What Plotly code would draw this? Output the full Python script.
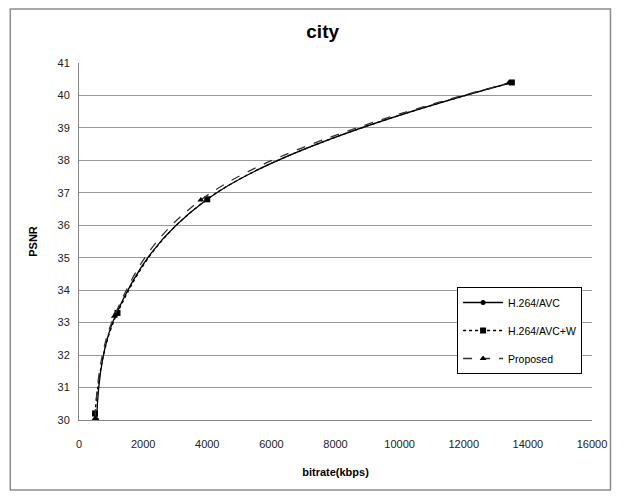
import plotly.graph_objects as go

series_names = ["H.264/AVC", "H.264/AVC+W", "Proposed"]
avc_x = [550, 1150, 4000, 13500]
avc_y = [30.0, 33.25, 36.8, 40.4]
avcw_x = [500, 1200, 4000, 13500]
avcw_y = [30.2, 33.3, 36.8, 40.4]
prop_x = [500, 1100, 3800, 13400]
prop_y = [30.05, 33.2, 36.78, 40.38]

x_ticks = [0, 2000, 4000, 6000, 8000, 10000, 12000, 14000, 16000]
y_ticks = [30, 31, 32, 33, 34, 35, 36, 37, 38, 39, 40, 41]

FONT = "Liberation Sans"

fig = go.Figure()
fig.add_trace(go.Scatter(x=avc_x, y=avc_y, name=series_names[0], mode="lines+markers", legendgroup="a",
                         line=dict(color="#000000", width=1.3, shape="spline", smoothing=1.1),
                         marker=dict(symbol="circle", size=5, color="#000000")))
fig.add_trace(go.Scatter(x=avcw_x, y=avcw_y, name=series_names[1], mode="lines+markers", legendgroup="b",
                         line=dict(color="#000000", width=1.3, dash="dot", shape="spline", smoothing=1.1),
                         marker=dict(symbol="square", size=6, color="#000000")))
fig.add_trace(go.Scatter(x=prop_x, y=prop_y, name=series_names[2], mode="lines+markers", legendgroup="c",
                         line=dict(color="#333333", width=1.3, dash="dash", shape="spline", smoothing=1.1),
                         marker=dict(symbol="triangle-up", size=6, color="#000000")))

fig.update_layout(
    width=611, height=483,
    margin=dict(l=71, r=20, t=55, b=71),
    paper_bgcolor="white", plot_bgcolor="white",
    font=dict(family=FONT, size=11, color="#222222"),
    title=dict(text="<b>city</b>", x=0.515, xref="container", y=0.952, yref="container",
               xanchor="center", yanchor="middle", font=dict(family=FONT, size=19, color="#000000")),
    xaxis=dict(range=[0, 16000], tickvals=x_ticks, ticktext=[str(v) for v in x_ticks],
               showgrid=False, showline=True, linecolor="#868686", linewidth=1, ticks="",
               zeroline=False, ticklabelstandoff=14,
               title=dict(text="<b>bitrate(kbps)</b>", font=dict(family=FONT, size=11, color="#000000"), standoff=19)),
    yaxis=dict(range=[30, 41], tickvals=y_ticks, ticktext=[str(v) for v in y_ticks],
               showgrid=True, gridcolor="#9a9a9a", gridwidth=1, showline=True, linecolor="#868686",
               linewidth=1, ticks="", zeroline=False, ticklabelstandoff=6,
               title=dict(text="<b>PSNR</b>", font=dict(family=FONT, size=11, color="#000000"), standoff=17)),
    legend=dict(x=0.737, y=0.3725, xanchor="left", yanchor="top", bgcolor="white",
                bordercolor="#000000", borderwidth=1, font=dict(family=FONT, size=10.5, color="#000000"),
                tracegroupgap=9, itemwidth=40),
    showlegend=True,
)

fig.add_shape(type="rect", xref="paper", yref="paper", x0=-0.134, x1=1.036, y0=-0.196, y1=1.151,
              line=dict(color="#8c8c8c", width=1.5), fillcolor="rgba(0,0,0,0)", layer="below")

fig.write_html("out.html")
